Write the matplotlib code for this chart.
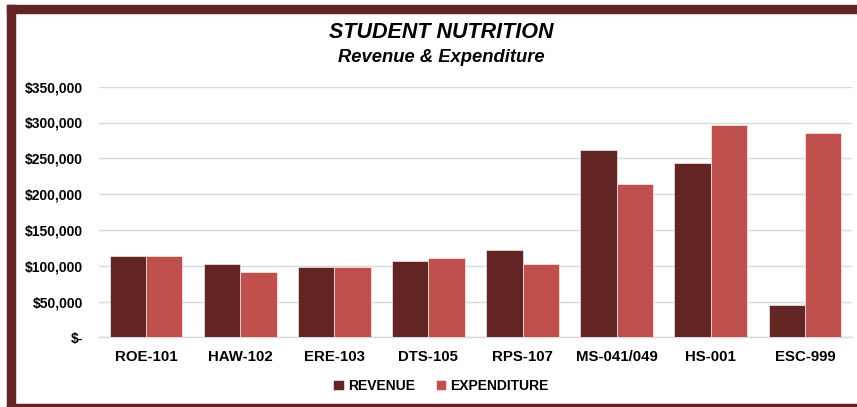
import matplotlib
matplotlib.use("Agg")
import matplotlib.pyplot as plt
import numpy as np
from matplotlib.patches import Rectangle
from matplotlib.ticker import FuncFormatter

plt.rcParams['font.family'] = ['Liberation Sans', 'DejaVu Sans']

categories = ["ROE-101", "HAW-102", "ERE-103", "DTS-105", "RPS-107", "MS-041/049", "HS-001", "ESC-999"]
revenue = [113700, 102500, 98700, 107100, 122100, 260900, 243300, 45200]
expenditure = [114100, 91300, 97900, 110400, 102100, 213900, 295900, 285700]
yticks = [0, 50000, 100000, 150000, 200000, 250000, 300000, 350000]

rev_color = "#632523"
exp_color = "#C0504D"

W, H = 857, 407
fig = plt.figure(figsize=(W / 100, H / 100), dpi=100)

# plot area: x 99..852, y 86.7..337.3 (pixels from top)
ax = fig.add_axes([99 / W, 1 - 337.3 / H, (852 - 99) / W, (337.3 - 86.7) / H])

x = np.arange(len(categories))
bw = 0.386
ax.bar(x - bw / 2, revenue, bw, color=rev_color, label="REVENUE", zorder=3,
       edgecolor="white", linewidth=0.4)
ax.bar(x + bw / 2, expenditure, bw, color=exp_color, label="EXPENDITURE", zorder=3,
       edgecolor="white", linewidth=0.4)

ax.set_xlim(-0.5, len(categories) - 0.5)
ax.set_ylim(0, 350000)
ax.set_yticks(yticks)


def fmt(v, pos):
    if v == 0:
        return "$-"
    return "${:,.0f}".format(v)


ax.yaxis.set_major_formatter(FuncFormatter(fmt))
ax.set_xticks(x)
ax.set_xticklabels(categories, fontsize=10.8, fontweight="bold")
for lab in ax.get_yticklabels():
    lab.set_fontweight("bold")
    lab.set_fontsize(10)
ax.tick_params(axis="both", length=0)
ax.tick_params(axis="y", pad=11.5)
ax.tick_params(axis="x", pad=9)
ax.grid(axis="y", color="#D9D9D9", linewidth=1, zorder=0)
for s in ["top", "right", "left"]:
    ax.spines[s].set_visible(False)
ax.spines["bottom"].set_color("#D9D9D9")
ax.spines["bottom"].set_linewidth(1)

fig.text(441 / W, 1 - 33 / H, "STUDENT NUTRITION", ha="center", va="center",
         fontsize=15.5, fontweight="bold", fontstyle="italic")
fig.text(441 / W, 1 - 58 / H, "Revenue & Expenditure", ha="center", va="center",
         fontsize=13.2, fontweight="bold", fontstyle="italic")

leg = fig.legend(loc="center", bbox_to_anchor=(441 / W, 1 - 386 / H), ncol=2, frameon=False,
                 prop={"weight": "bold", "size": 10}, handlelength=0.75, handleheight=0.75,
                 handletextpad=0.3, columnspacing=1.5)

# border frame
bc = "#632523"
fig.patches.append(Rectangle((7 / W, 0), 8 / W, 1 - 5 / H, transform=fig.transFigure,
                             color=bc, zorder=10))
fig.patches.append(Rectangle((7 / W, 1 - 13 / H), 1, 8 / H, transform=fig.transFigure,
                             color=bc, zorder=10))
fig.patches.append(Rectangle((7 / W, 0), 1, 3.5 / H, transform=fig.transFigure,
                             color=bc, zorder=10))

fig.savefig("out.png", dpi=100)
